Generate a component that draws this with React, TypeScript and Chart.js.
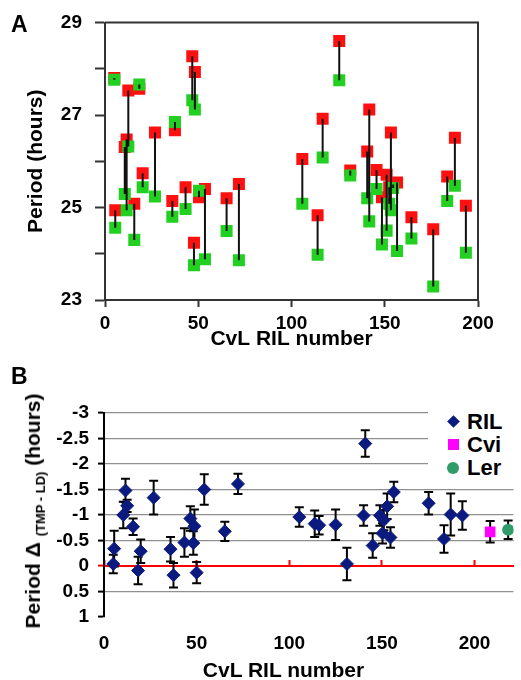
import React, { useEffect, useRef } from "react";
import { Chart, registerables } from "chart.js";

Chart.register(...registerables);

const FONT = "'Liberation Sans', Arial, Helvetica, sans-serif";

// ---------- Panel A: period per RIL under two conditions ----------
const rilA = [5, 5.5, 10.6, 11.6, 12.5, 15.7, 18.4, 20.2, 26.8, 36.1, 37.5, 43.2, 46.8, 47.7, 48.2, 50.4, 53.6, 65.2, 71.8, 105.8, 114, 116.7, 125.6, 131.5, 140.6, 141.7, 145.6, 148.5, 151, 152.4, 153.3, 154.5, 156.6, 164.3, 176, 183.5, 187.6, 193.5];
const periodRed = [27.8, 24.94, 26.31, 26.47, 27.53, 25.08, 27.57, 25.74, 26.62, 25.14, 26.67, 25.44, 28.27, 24.24, 27.93, 25.22, 25.4, 25.2, 25.51, 26.05, 24.83, 26.92, 28.6, 25.8, 26.21, 27.12, 25.81, 25.22, 25.71, 25.44, 26.62, 25.5, 25.54, 24.79, 24.53, 25.67, 26.51, 25.04];
const periodGreen = [27.76, 24.56, 25.29, 24.94, 26.32, 24.3, 27.66, 25.44, 25.24, 24.8, 26.85, 24.97, 27.32, 23.75, 27.12, 25.36, 23.88, 24.49, 23.86, 25.08, 23.98, 26.08, 27.75, 25.69, 25.2, 24.7, 25.4, 24.2, 24.5, 25.08, 24.94, 25.42, 24.06, 24.33, 23.29, 25.14, 25.47, 24.02];
const yLabelsA = [23, 25, 27, 29];

// ---------- Panel B: period difference (TMP - LD) ----------
const rilB = [5, 5.5, 10.4, 11.6, 12.5, 15.7, 18.4, 19.8, 26.8, 35.9, 37.5, 43.4, 46.6, 48.2, 48.8, 50, 54.1, 65.2, 72.3, 105.4, 113.7, 116.1, 125, 131.1, 140.1, 141, 145, 148.9, 150.3, 151, 152.8, 154.6, 156.4, 175.2, 183.5, 187.1, 193.4];
const deltaRil = [-0.04, -0.34, -1.0, -1.48, -1.18, -0.77, 0.09, -0.29, -1.34, -0.33, 0.18, -0.46, -0.93, -0.45, -0.78, 0.13, -1.5, -0.68, -1.61, -0.96, -0.83, -0.8, -0.81, -0.04, -0.99, -2.4, -0.4, -0.99, -0.64, -0.9, -1.17, -0.56, -1.45, -1.23, -0.53, -1.01, -0.99];
const errRil = [0.18, 0.35, 0.26, 0.23, 0.12, 0.16, 0.27, 0.23, 0.33, 0.24, 0.24, 0.28, 0.24, 0.23, 0.33, 0.21, 0.3, 0.19, 0.2, 0.19, 0.26, 0.18, 0.3, 0.32, 0.2, 0.26, 0.24, 0.2, 0.2, 0.2, 0.25, 0.2, 0.2, 0.22, 0.27, 0.41, 0.28];
const cviX = [208.4];
const cviDelta = [-0.67];
const cviErr = [0.21];
const lerX = [218.1];
const lerDelta = [-0.71];
const lerErr = [0.18];
const legendB = ["RIL", "Cvi", "Ler"];

const NAVY = "#0b1a7e";
const MAGENTA = "#ff00ff";
const SEAGREEN = "#2e9b69";

export default function App() {
  const aRef = useRef<HTMLCanvasElement | null>(null);
  const bRef = useRef<HTMLCanvasElement | null>(null);

  useEffect(() => {
    Chart.defaults.font.family = FONT;
    Chart.defaults.color = "#000";
    const tickFont = { family: FONT, size: 19, weight: "bold" as const, lineHeight: 1 };
    const titleFont = { family: FONT, size: 21, weight: "bold" as const };

    // ---- Chart A ----
    const redPts = rilA.map((x, i) => ({ x, y: periodRed[i] }));
    const greenPts = rilA.map((x, i) => ({ x, y: periodGreen[i] }));
    const links: any[] = [];
    rilA.forEach((x, i) => {
      links.push({ x, y: periodRed[i] }, { x, y: periodGreen[i] }, { x, y: null });
    });

    const framePlugin = {
      id: "frameA",
      beforeDatasetsDraw(chart: any) {
        const { ctx, chartArea } = chart;
        const { left, top, right, bottom } = chartArea;
        ctx.save();
        ctx.strokeStyle = "#333";
        ctx.lineWidth = 2;
        ctx.beginPath();
        ctx.moveTo(left, top);
        ctx.lineTo(right, top);
        ctx.lineTo(right, bottom);
        ctx.stroke();
        ctx.restore();
      },
    };

    const chartA = new Chart(aRef.current!, {
      type: "scatter",
      data: {
        datasets: [
          { label: "link", data: links, showLine: true, borderColor: "#111", borderWidth: 2, pointRadius: 0, order: 0 } as any,
          { label: "green", data: greenPts, pointStyle: "rect", pointRadius: 8.5, backgroundColor: "#22d022", borderColor: "#22d022", borderWidth: 0, order: 1 } as any,
          { label: "red", data: redPts, pointStyle: "rect", pointRadius: 8.5, backgroundColor: "#ff1010", borderColor: "#ff1010", borderWidth: 0, order: 2 } as any,
        ],
      },
      options: {
        responsive: false,
        animation: false,
        events: [],
        layout: { padding: { top: 21, right: 43, left: 0, bottom: 0 } },
        plugins: { legend: { display: false }, tooltip: { enabled: false } },
        scales: {
          x: {
            type: "linear",
            min: 0,
            max: 200,
            ticks: { stepSize: 50, padding: 7, font: tickFont, color: "#000", autoSkip: false },
            grid: { drawOnChartArea: false, tickLength: 7, tickWidth: 2, tickColor: "#333" },
            border: { color: "#333", width: 2 },
            title: { display: true, text: "CvL RIL number", font: titleFont, color: "#000", padding: { top: 0, bottom: 0 } },
            afterFit: (s: any) => { s.height = 52; },
          },
          y: {
            type: "linear",
            min: 23,
            max: 29,
            ticks: {
              stepSize: 1,
              padding: 13,
              autoSkip: false,
              font: tickFont,
              color: "#000",
              callback: (v: any) => (yLabelsA.includes(Number(v)) ? String(v) : ""),
            },
            grid: { drawOnChartArea: false, tickLength: 10, tickWidth: 2, tickColor: "#333" },
            border: { color: "#333", width: 2 },
            title: { display: true, text: "Period (hours)", font: titleFont, color: "#000", padding: { top: 24, bottom: 0 } },
            afterFit: (s: any) => { s.width = 105; },
          },
        },
      } as any,
      plugins: [framePlugin],
    });

    // ---- Chart B ----
    const rilPts = rilB.map((x, i) => ({ x, y: deltaRil[i] }));
    const cviPts = cviX.map((x, i) => ({ x, y: cviDelta[i] }));
    const lerPts = lerX.map((x, i) => ({ x, y: lerDelta[i] }));
    const errSegs: any[] = [];
    const addErr = (xs: number[], ds: number[], es: number[]) =>
      xs.forEach((x, i) => {
        errSegs.push({ x, y: ds[i] - es[i] }, { x, y: ds[i] + es[i] }, { x, y: null });
      });
    addErr(rilB, deltaRil, errRil);
    addErr(cviX, cviDelta, cviErr);
    addErr(lerX, lerDelta, lerErr);

    const chartB = new Chart(bRef.current!, {
      type: "scatter",
      data: {
        datasets: [
          { label: "err", data: errSegs, showLine: true, borderColor: "#000", borderWidth: 2, pointStyle: "line", pointRadius: 4.5, pointBorderWidth: 2, pointBorderColor: "#000", order: 2 } as any,
          { label: legendB[0], data: rilPts, pointStyle: "rectRot", pointRadius: 6.5, backgroundColor: NAVY, borderColor: NAVY, borderWidth: 1, order: 0 } as any,
          { label: legendB[1], data: cviPts, pointStyle: "rect", pointRadius: 7.5, backgroundColor: MAGENTA, borderColor: MAGENTA, borderWidth: 0, order: 0 } as any,
          { label: legendB[2], data: lerPts, pointStyle: "circle", pointRadius: 6, backgroundColor: SEAGREEN, borderColor: SEAGREEN, borderWidth: 0, order: 0 } as any,
        ],
      },
      options: {
        responsive: false,
        animation: false,
        events: [],
        layout: { padding: { top: 38, right: 3, left: 0, bottom: 0 } },
        plugins: { legend: { display: false }, tooltip: { enabled: false } },
        scales: {
          x: {
            type: "linear",
            min: 0,
            max: 221,
            ticks: { stepSize: 50, includeBounds: false, autoSkip: false, padding: 17, font: tickFont, color: "#000" },
            grid: { display: false, drawTicks: false },
            border: { display: false },
            afterFit: (s: any) => { s.height = 63; },
          },
          x2: {
            type: "linear",
            axis: "x",
            position: { y: 0 },
            min: 0,
            max: 221,
            ticks: { display: false, stepSize: 50, includeBounds: false, autoSkip: false },
            grid: { drawOnChartArea: false, drawTicks: true, tickLength: -7, tickWidth: 2, tickColor: "#ff0000" },
            border: { display: true, color: "#ff0000", width: 2 },
          },
          y: {
            type: "linear",
            reverse: true,
            min: -3,
            max: 1,
            ticks: {
              stepSize: 0.5,
              autoSkip: false,
              padding: 9,
              font: tickFont,
              color: "#000",
              callback: (v: any) => String(Math.round(Number(v) * 10) / 10),
            },
            grid: {
              color: (ctx: any) => {
                const v = ctx.tick ? ctx.tick.value : null;
                return v === 0 || v === 1 ? "rgba(0,0,0,0)" : "#8f8f8f";
              },
              lineWidth: 1.2,
              tickLength: 6,
              tickWidth: 2,
              tickColor: (ctx: any) => (ctx.tick && ctx.tick.value === 0 ? "#ff0000" : "#000"),
            },
            border: { color: "#000", width: 2 },
            afterFit: (s: any) => { s.width = 104; },
          },
        },
      } as any,
    });

    return () => {
      chartA.destroy();
      chartB.destroy();
    };
  }, []);

  const legendMarkers = [
    <div key="m0" style={{ width: 9, height: 9, background: NAVY, transform: "rotate(45deg)" }} />,
    <div key="m1" style={{ width: 11, height: 11, background: MAGENTA }} />,
    <div key="m2" style={{ width: 12, height: 12, background: SEAGREEN, borderRadius: "50%" }} />,
  ];

  return (
    <div style={{ position: "absolute", left: 0, top: 0, width: 521, height: 680, background: "#fff", fontFamily: FONT, overflow: "hidden" }}>
      <canvas ref={aRef} width={521} height={352} style={{ position: "absolute", left: 0, top: 0 }} />
      <canvas ref={bRef} width={521} height={305} style={{ position: "absolute", left: 0, top: 375 }} />
      <div style={{ position: "absolute", left: 11, top: 13, fontSize: 23, lineHeight: "23px", fontWeight: "bold" }}>A</div>
      <div style={{ position: "absolute", left: 11, top: 365, fontSize: 23, lineHeight: "23px", fontWeight: "bold" }}>B</div>
      <div
        style={{
          position: "absolute",
          left: 37,
          top: 511,
          transform: "translate(-50%, -50%) rotate(-90deg)",
          whiteSpace: "nowrap",
          fontSize: 21,
          lineHeight: "24px",
          fontWeight: "bold",
        }}
      >
        Period Δ <span style={{ fontSize: 13, verticalAlign: "sub" }}>(TMP - LD)</span> (hours)
      </div>
      <div
        style={{
          position: "absolute",
          left: 283.5,
          top: 669,
          transform: "translate(-50%, -50%)",
          whiteSpace: "nowrap",
          fontSize: 21,
          lineHeight: "21px",
          fontWeight: "bold",
        }}
      >
        CvL RIL number
      </div>
      <div style={{ position: "absolute", left: 428, top: 405, width: 92, height: 78, background: "#fff" }}>
        <div style={{ position: "absolute", left: 0, top: 5 }}>
          {legendB.map((name, i) => (
            <div key={name} style={{ display: "flex", alignItems: "center", height: 23 }}>
              <div style={{ width: 50, display: "flex", justifyContent: "center", alignItems: "center" }}>{legendMarkers[i]}</div>
              <div style={{ marginLeft: -11, fontSize: 22, lineHeight: "22px", fontWeight: "bold" }}>{name}</div>
            </div>
          ))}
        </div>
      </div>
    </div>
  );
}
